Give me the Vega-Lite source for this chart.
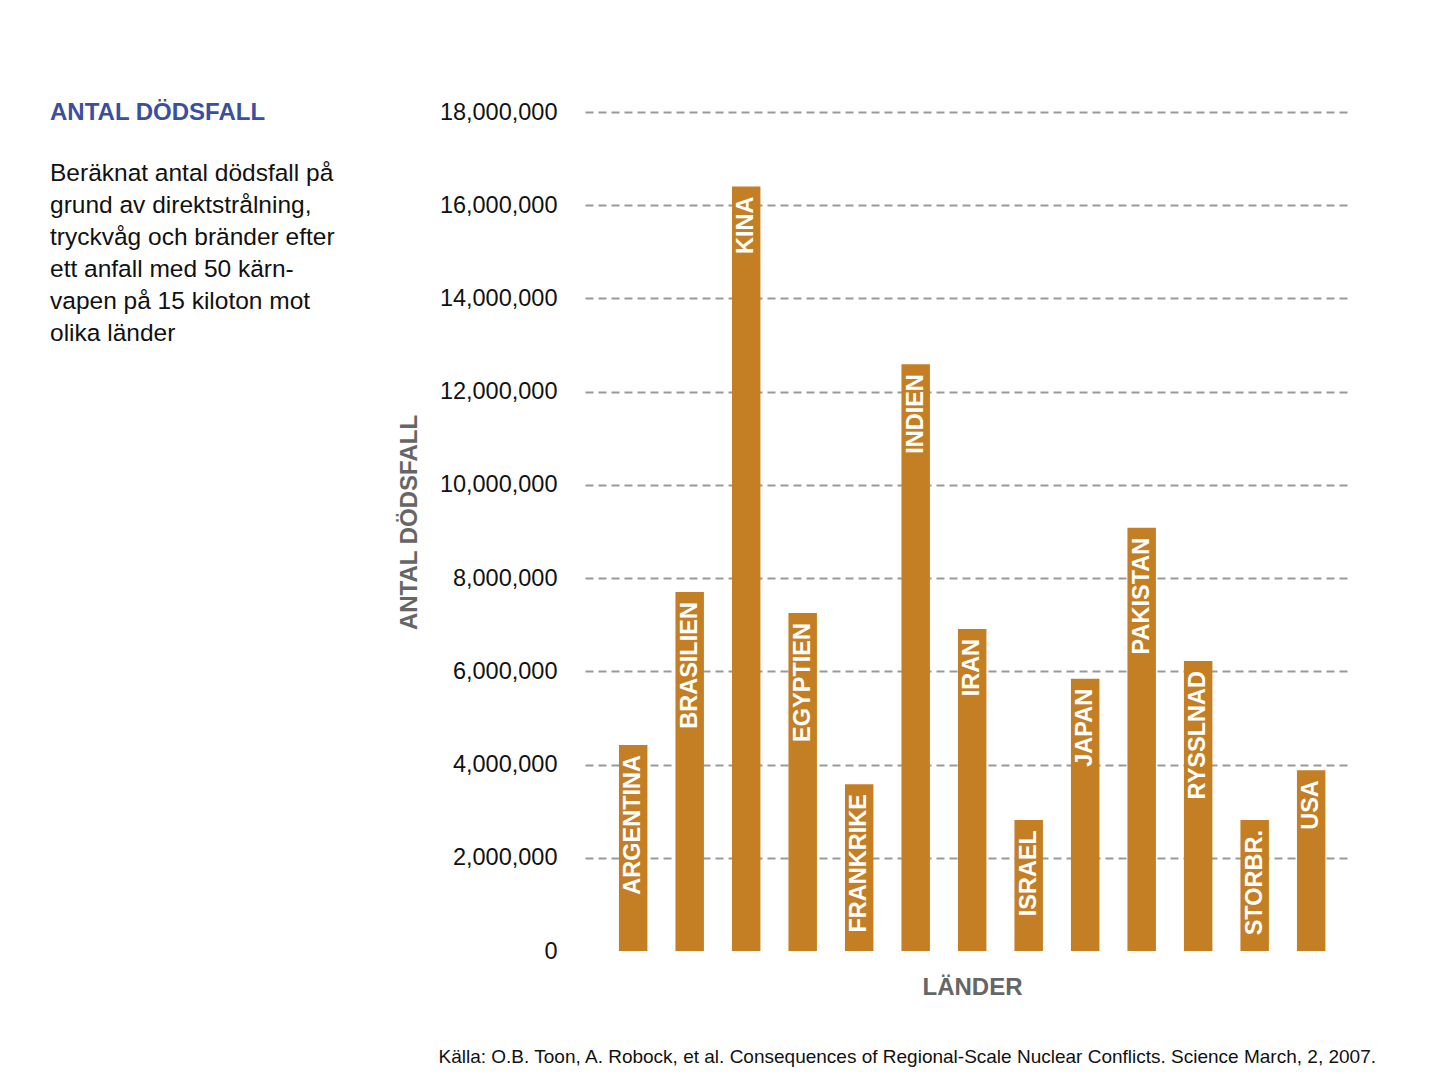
{
  "$schema": "https://vega.github.io/schema/vega-lite/v6.json",
  "autosize": "none",
  "width": 765,
  "height": 839,
  "padding": {"left": 585, "top": 112, "right": 99, "bottom": 127},
  "background": "white",
  "config": {
    "font": "Liberation Sans",
    "view": {"stroke": null}
  },
  "title": {
    "text": "ANTAL DÖDSFALL",
    "subtitle": [
      "Beräknat antal dödsfall på",
      "grund av direktstrålning,",
      "tryckvåg och bränder efter",
      "ett anfall med 50 kärn-",
      "vapen på 15 kiloton mot",
      "olika länder"
    ],
    "anchor": "start",
    "frame": "group",
    "orient": "top",
    "dx": -535,
    "dy": 249,
    "font": "Liberation Sans",
    "fontSize": 24,
    "fontWeight": "bold",
    "color": "#3c4f9e",
    "subtitleFont": "Liberation Sans",
    "subtitleFontSize": 24.5,
    "subtitleColor": "#111111",
    "subtitleLineHeight": 32,
    "subtitlePadding": 37
  },
  "data": {
    "values": [
      {"land": "ARGENTINA", "dodsfall": 4420000},
      {"land": "BRASILIEN", "dodsfall": 7700000},
      {"land": "KINA", "dodsfall": 16400000},
      {"land": "EGYPTIEN", "dodsfall": 7250000},
      {"land": "FRANKRIKE", "dodsfall": 3580000},
      {"land": "INDIEN", "dodsfall": 12590000},
      {"land": "IRAN", "dodsfall": 6910000},
      {"land": "ISRAEL", "dodsfall": 2810000},
      {"land": "JAPAN", "dodsfall": 5840000},
      {"land": "PAKISTAN", "dodsfall": 9080000},
      {"land": "RYSSLNAD", "dodsfall": 6220000},
      {"land": "STORBR.", "dodsfall": 2810000},
      {"land": "USA", "dodsfall": 3880000}
    ]
  },
  "resolve": {"axis": {"x": "independent"}},
  "layer": [
    {
      "mark": {"type": "bar", "color": "#c47f24"},
      "encoding": {
        "x": {
          "field": "land",
          "type": "nominal",
          "sort": null,
          "scale": {"paddingInner": 0.496, "paddingOuter": 0.518, "align": 0.58},
          "axis": {
            "orient": "bottom",
            "labels": false,
            "ticks": false,
            "domain": false,
            "title": "LÄNDER",
            "titleFont": "Liberation Sans",
            "titleFontSize": 24,
            "titleFontWeight": "bold",
            "titleColor": "#666666",
            "titlePadding": 24,
            "titleX": 387
          }
        },
        "y": {
          "field": "dodsfall",
          "type": "quantitative",
          "scale": {"domain": [0, 18000000]},
          "axis": {
            "values": [0, 2000000, 4000000, 6000000, 8000000, 10000000, 12000000, 14000000, 16000000, 18000000],
            "format": ",.0f",
            "labelFont": "Liberation Sans",
            "labelFontSize": 23.5,
            "labelColor": "#111111",
            "labelPadding": 28,
            "ticks": false,
            "domain": false,
            "grid": true,
            "gridColor": "#999999",
            "gridWidth": 2,
            "gridDash": [8, 5],
            "gridOpacity": {"condition": {"test": "datum.value === 0", "value": 0}, "value": 1},
            "title": "ANTAL DÖDSFALL",
            "titleFont": "Liberation Sans",
            "titleFontSize": 24,
            "titleFontWeight": "bold",
            "titleColor": "#666666",
            "titlePadding": 18,
            "titleY": 410
          }
        }
      }
    },
    {
      "mark": {
        "type": "text",
        "angle": 270,
        "align": "right",
        "baseline": "middle",
        "dx": -10,
        "color": "white",
        "font": "Liberation Sans",
        "fontSize": 23.5,
        "fontWeight": "bold"
      },
      "encoding": {
        "x": {
          "field": "land",
          "type": "nominal",
          "sort": null,
          "axis": {
            "orient": "bottom",
            "labels": false,
            "ticks": false,
            "domain": false,
            "grid": false,
            "title": "Källa: O.B. Toon, A. Robock, et al. Consequences of Regional-Scale Nuclear Conflicts.  Science March, 2, 2007.",
            "titleFont": "Liberation Sans",
            "titleFontSize": 19,
            "titleFontWeight": "normal",
            "titleColor": "#111111",
            "titleAlign": "left",
            "titleAnchor": "start",
            "titleX": -147,
            "titleY": 105,
            "titleBaseline": "middle"
          }
        },
        "y": {"field": "dodsfall", "type": "quantitative"},
        "text": {"field": "land"}
      }
    }
  ]
}
